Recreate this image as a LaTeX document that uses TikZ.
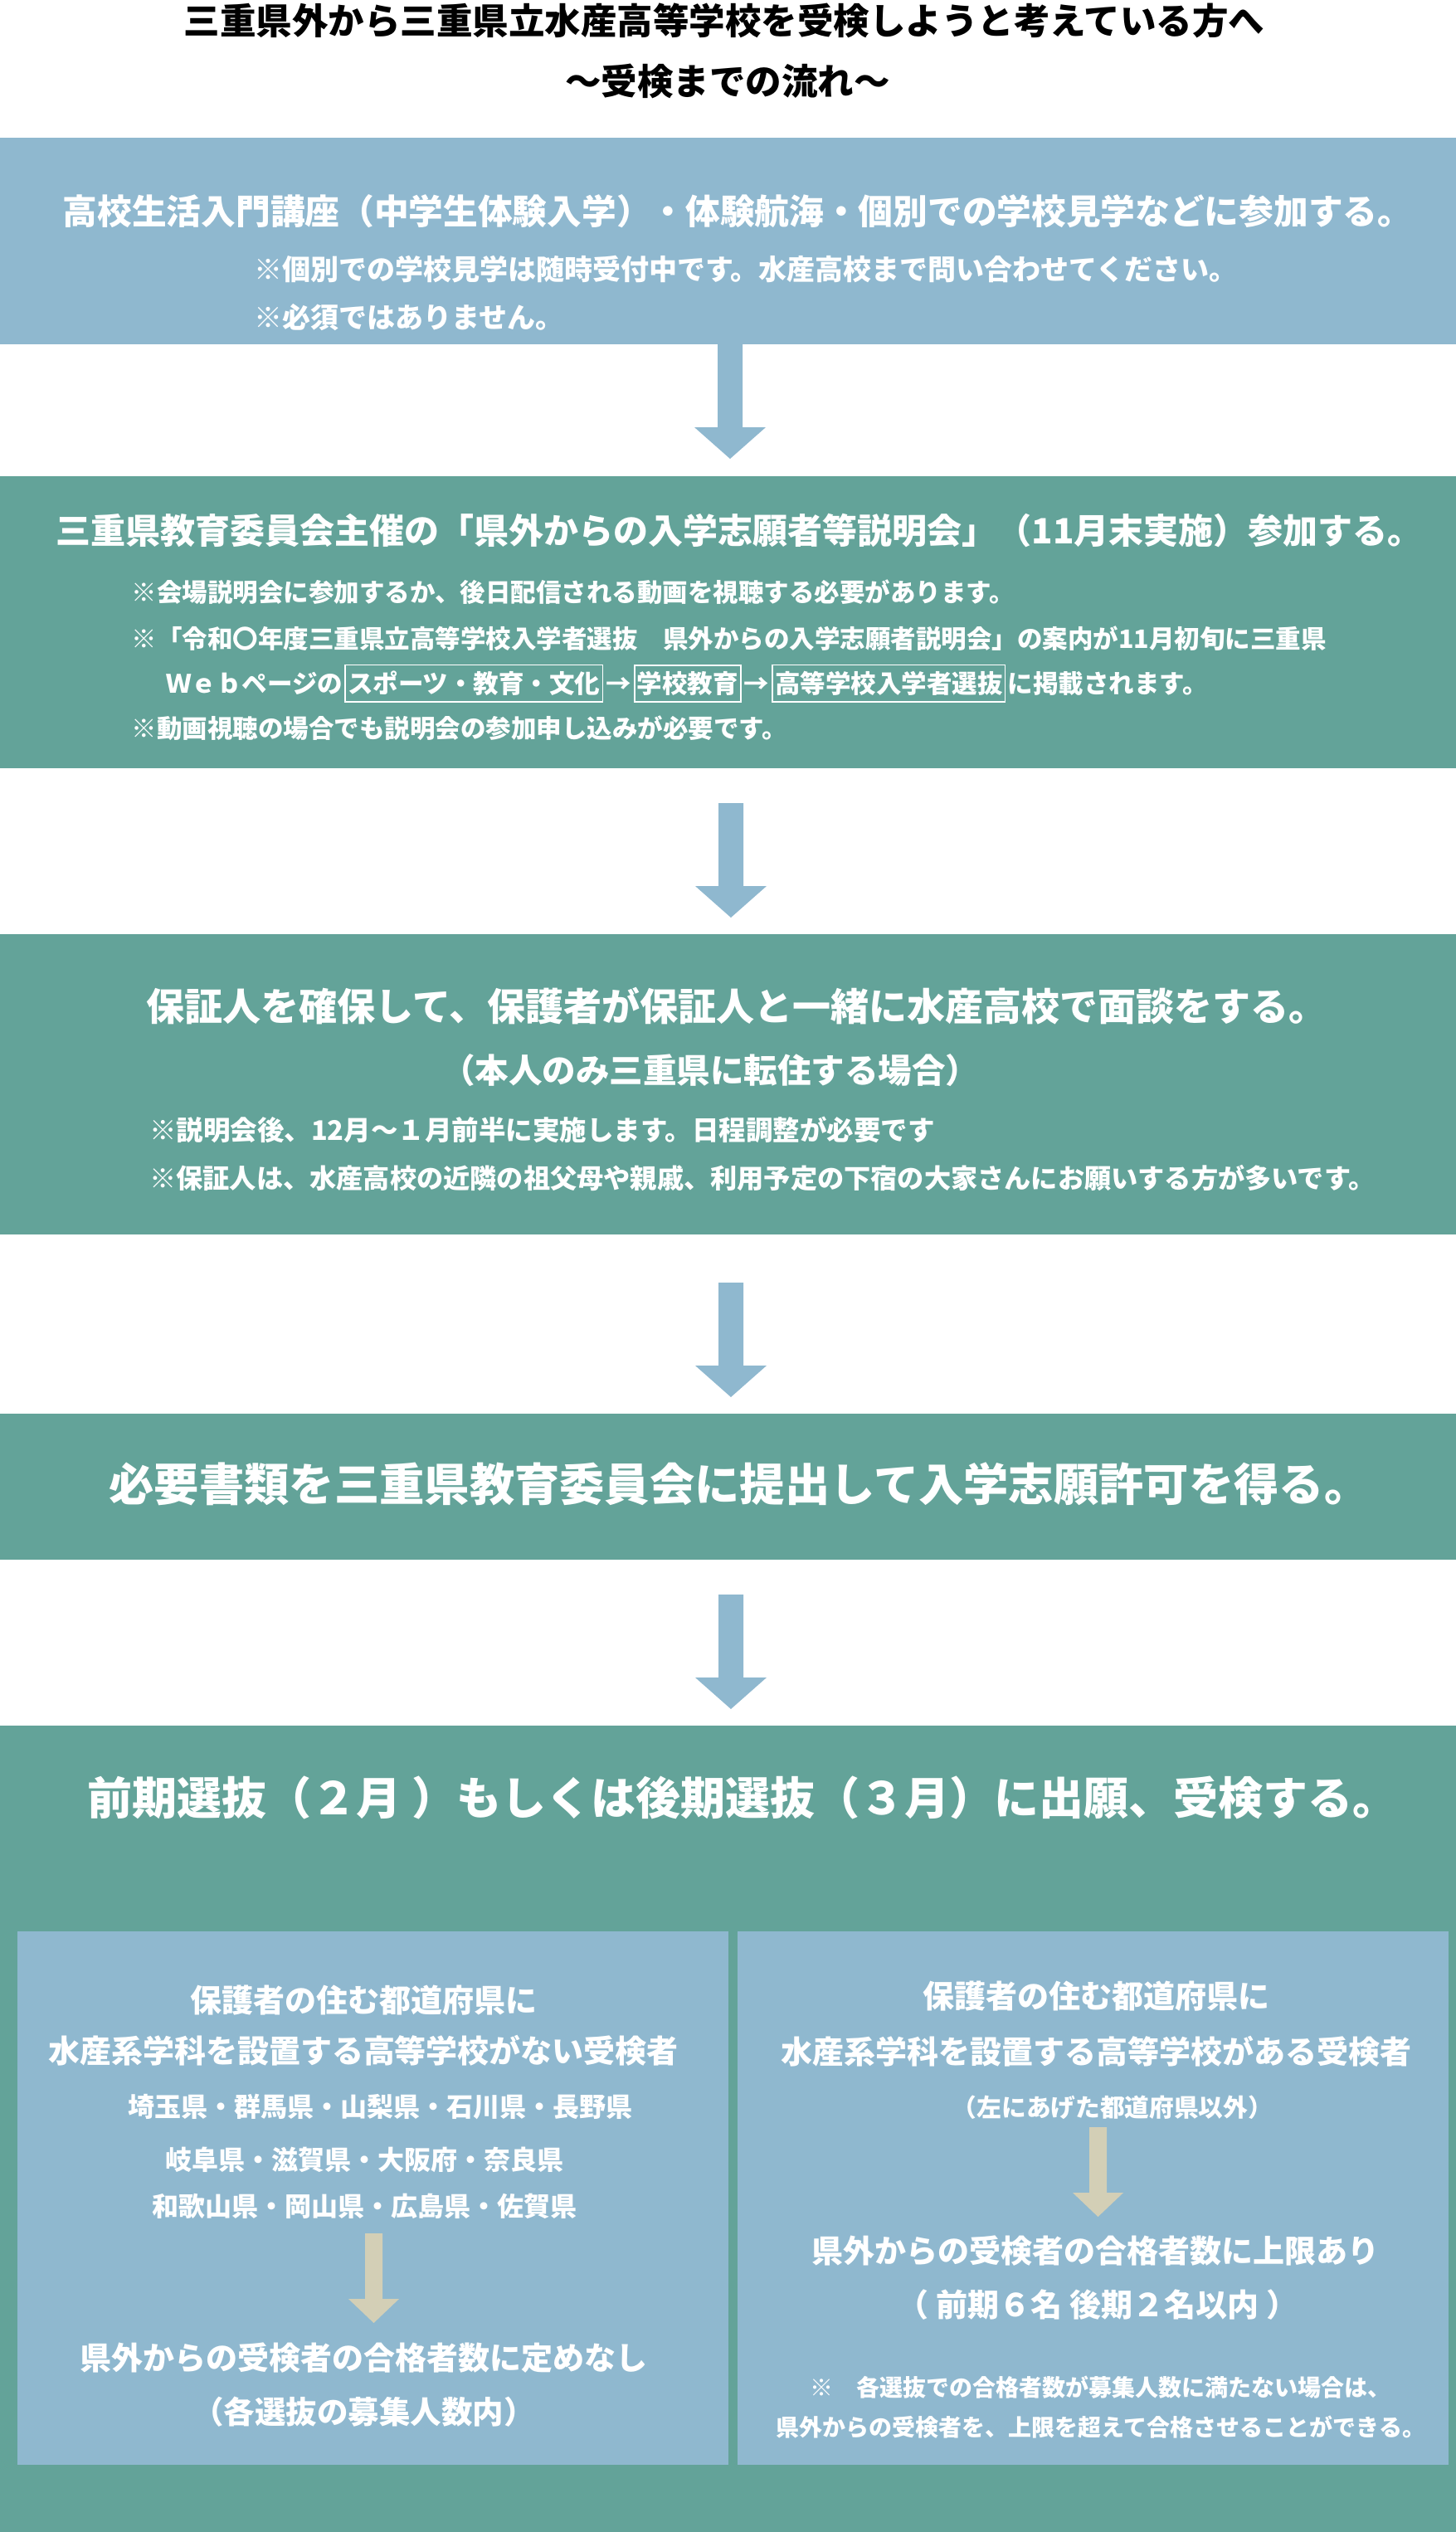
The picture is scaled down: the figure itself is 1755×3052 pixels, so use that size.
\documentclass[tikz,border=0pt]{standalone}
\usepackage{fontspec}
\setmainfont{Noto Sans CJK JP}
\usepackage{tikz}
\usetikzlibrary{positioning}
\definecolor{panelblue}{HTML}{8FB8CF}
\definecolor{panelgreen}{HTML}{63A399}
\definecolor{arrowsand}{HTML}{D3CFB6}
\tikzset{
  panel/.style={inner sep=0pt,outer sep=0pt,anchor=north west},
  fs/.style={font=\bfseries\fontsize{#1pt}{#1pt}\selectfont},
  txt/.style={inner sep=0pt,text=white},
  linkbox/.style={draw=white,line width=1.5pt,inner xsep=3pt,inner ysep=7.5pt,text=white},
  bigarrow/.pic={\fill[pic actions] (-15,0) -- (15,0) -- (15,100) -- (43,100) -- (0,138) -- (-43,100) -- (-15,100) -- cycle;},
  smallarrow/.pic={\fill[pic actions] (-10.5,0) -- (10.5,0) -- (10.5,79) -- (30.5,79) -- (0,108) -- (-30.5,79) -- (-10.5,79) -- cycle;}
}

\begin{document}
\begin{tikzpicture}[x=1pt,y=-1pt]
\useasboundingbox (0,0) rectangle (1755,3052);
\fill[white] (0,0) rectangle (1755,3052);
% title
\node[inner sep=0pt,fs=43.5,anchor=base] (head) at (873,41.5) {三重県外から三重県立水産高等学校を受検しようと考えている方へ};
\node[inner sep=0pt,fs=43.5,anchor=base] (subhead) at (877,114.5) {～受検までの流れ～};
% panels
\node[panel,fill=panelblue,minimum width=1755,minimum height=249] (step1) at (0,166) {};
\node[panel,fill=panelgreen,minimum width=1755,minimum height=352] (step2) at (0,574) {};
\node[panel,fill=panelgreen,minimum width=1755,minimum height=362] (step3) at (0,1126) {};
\node[panel,fill=panelgreen,minimum width=1755,minimum height=176] (step4) at (0,1704) {};
\node[panel,fill=panelgreen,minimum width=1755,minimum height=972] (step5) at (0,2080) {};
\node[panel,fill=panelblue,minimum width=857,minimum height=643] (noneside) at (21,2328) {};
\node[panel,fill=panelblue,minimum width=857,minimum height=643] (someside) at (889,2328) {};
% arrows
\coordinate (arr1) at (880,415);
\coordinate (arr2) at (881,968);
\coordinate (arr3) at (881,1546);
\coordinate (arr4) at (881,1922);
\coordinate (arrL) at (450.5,2692);
\coordinate (arrR) at (1323.5,2564);
\pic[fill=panelblue] at (arr1) {bigarrow};
\pic[fill=panelblue] at (arr2) {bigarrow};
\pic[fill=panelblue] at (arr3) {bigarrow};
\pic[fill=panelblue] at (arr4) {bigarrow};
\pic[fill=arrowsand] at (arrL) {smallarrow};
\pic[fill=arrowsand] at (arrR) {smallarrow};
% step 1
\node[txt,fs=41.7,anchor=base] (s1a) at (889,270.8) {高校生活入門講座（中学生体験入学）・体験航海・個別での学校見学などに参加する。};
\node[txt,fs=34,anchor=base west] (s1b) at (306,337.9) {※個別での学校見学は随時受付中です。水産高校まで問い合わせてください。};
\node[txt,fs=34,anchor=base west] (s1c) at (306,395.9) {※必須ではありません。};
% step 2
\node[txt,fs=42,anchor=base] (s2a) at (891,655) {三重県教育委員会主催の「県外からの入学志願者等説明会」（11月末実施）参加する。};
\node[txt,fs=30.5,anchor=base west] (s2b) at (158.5,725.6) {※会場説明会に参加するか、後日配信される動画を視聴する必要があります。};
\node[txt,fs=30.5,anchor=base west] (s2c) at (158.5,781.6) {※「令和〇年度三重県立高等学校入学者選抜　県外からの入学志願者説明会」の案内が11月初旬に三重県};
\node[txt,fs=30.5,anchor=base west] (web) at (200,835.6) {Ｗｅｂページの};
\node[linkbox,fs=30.5,base right=2pt of web] (sports) {スポーツ・教育・文化};
\node[txt,fs=30.5,base right=3pt of sports] (to1) {→};
\node[linkbox,fs=30.5,base right=3pt of to1] (school) {学校教育};
\node[txt,fs=30.5,base right=3pt of school] (to2) {→};
\node[linkbox,fs=30.5,base right=3pt of to2] (exam) {高等学校入学者選抜};
\node[txt,fs=30.5,base right=2pt of exam] (posted) {に掲載されます。};
\node[txt,fs=30.5,anchor=base west] (s2e) at (158.5,889.6) {※動画視聴の場合でも説明会の参加申し込みが必要です。};
% step 3
\node[txt,fs=46,anchor=base] (s3a) at (888,1230.5) {保証人を確保して、保護者が保証人と一緒に水産高校で面談をする。};
\node[txt,fs=40.5,anchor=base] (s3b) at (856,1305.4) {（本人のみ三重県に転住する場合）};
\node[txt,fs=32.5,anchor=base west] (s3c) at (180,1374.4) {※説明会後、12月～１月前半に実施します。日程調整が必要です};
\node[txt,fs=32.2,anchor=base west] (s3d) at (180,1432.2) {※保証人は、水産高校の近隣の祖父母や親戚、利用予定の下宿の大家さんにお願いする方が多いです。};
% step 4
\node[txt,fs=54.3,anchor=base] (s4a) at (891,1809.6) {必要書類を三重県教育委員会に提出して入学志願許可を得る。};
% step 5
\node[txt,fs=54,anchor=base] (s5a) at (895,2187.5) {前期選抜（２月 ）もしくは後期選抜（３月）に出願、受検する。};
% left side
\node[txt,fs=38,anchor=base] (na) at (438,2425.4) {保護者の住む都道府県に};
\node[txt,fs=38,anchor=base] (nb) at (438,2486.4) {水産系学科を設置する高等学校がない受検者};
\node[txt,fs=32,anchor=base] (nc) at (458,2551.2) {埼玉県・群馬県・山梨県・石川県・長野県};
\node[txt,fs=32,anchor=base] (nd) at (439,2615.2) {岐阜県・滋賀県・大阪府・奈良県};
\node[txt,fs=32,anchor=base] (ne) at (439,2671.2) {和歌山県・岡山県・広島県・佐賀県};
\node[txt,fs=38,anchor=base] (nf) at (438,2856.4) {県外からの受検者の合格者数に定めなし};
\node[txt,fs=37.5,anchor=base] (ng) at (438.5,2921.3) {（各選抜の募集人数内）};
% right side
\node[txt,fs=38,anchor=base] (sa) at (1321.5,2420.4) {保護者の住む都道府県に};
\node[txt,fs=38,anchor=base] (sb) at (1321.5,2487.4) {水産系学科を設置する高等学校がある受検者};
\node[txt,fs=29.7,anchor=base] (sc) at (1341,2551.3) {（左にあげた都道府県以外）};
\node[txt,fs=38,anchor=base] (sd) at (1320.5,2727.4) {県外からの受検者の合格者数に上限あり};
\node[txt,fs=38,anchor=base] (se) at (1323,2792.4) {（ 前期６名 後期２名以内 ）};
\node[txt,fs=28,anchor=base] (sf) at (1326,2888.6) {※　各選抜での合格者数が募集人数に満たない場合は、};
\node[txt,fs=28,anchor=base] (sg) at (1327,2936.6) {県外からの受検者を、上限を超えて合格させることができる。};
\end{tikzpicture}
\end{document}
